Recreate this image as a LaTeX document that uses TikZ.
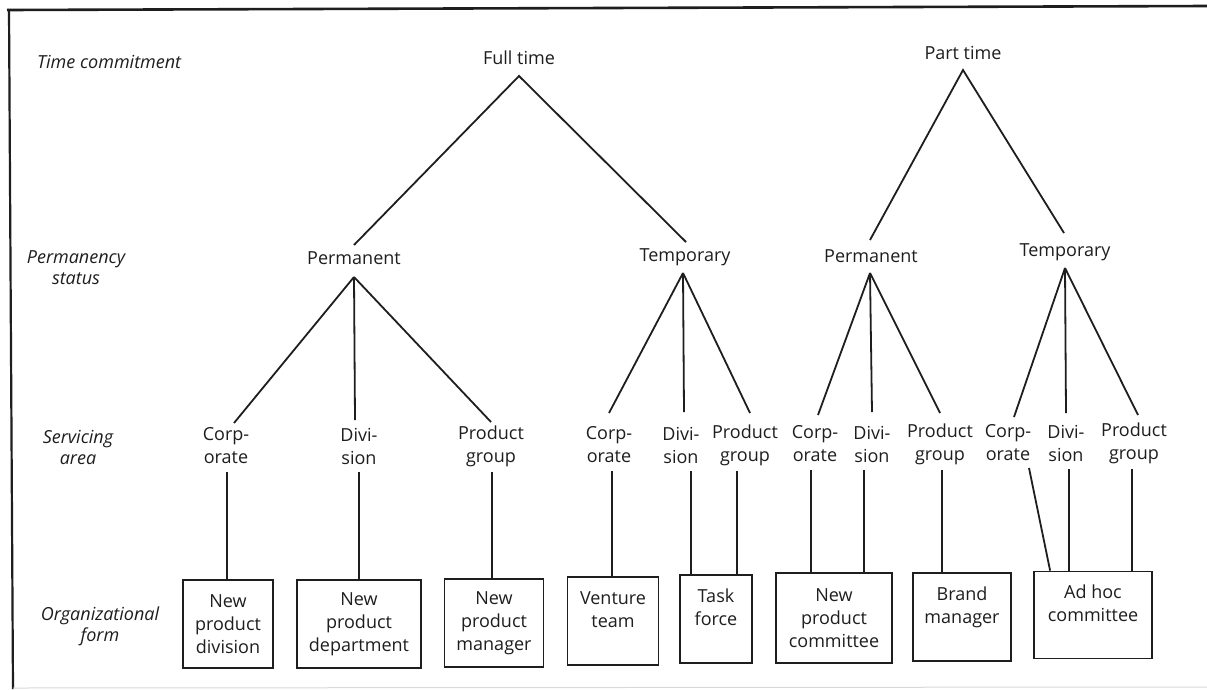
\documentclass[tikz,border=0pt]{standalone}
\usepackage{fontspec}
\setmainfont{Open Sans}
\definecolor{ink}{HTML}{1E1E1E}
% vertical drop from a servicing-area label to its organizational form box
\newcommand\dropline[3]{%
  \path ([shift={(#3,-26pt)}]#1.center) coordinate (dtop);
  \draw[link] (dtop) -- (dtop |- #2.north);}
\begin{document}
\begin{tikzpicture}[x=1pt,y=-1pt,
  txt/.style={inner sep=0pt, align=center, text=ink, font=\fontsize{18}{23}\selectfont},
  axis/.style={inner sep=0pt, align=center, text=ink, font=\fontsize{18}{21}\selectfont\itshape},
  formbox/.style={txt, draw=ink, line width=1.8pt},
  link/.style={draw=ink, line width=1.8pt}]
\useasboundingbox (0,0) rectangle (1207,689);
\fill[white] (0,0) rectangle (1207,689);

% frame
\draw[ink, line width=2.6pt] (7,10) -- (1207,6);
\draw[ink, line width=2.2pt] (9,9) -- (13,689);
\draw[black!15, line width=1pt] (13,688) -- (1207,687);

% row captions
\node[axis, anchor=west] (tc) at (37,62) {Time commitment};
\node[axis] (ps) at (76,268) {Permanency\\status};
\node[axis] (sa) at (78,447) {Servicing\\area};
\node[axis] (of) at (100,626) {Organizational\\form};

% time commitment
\node[txt] (ft) at (519,58) {Full time};
\node[txt] (pt) at (963,53) {Part time};

% permanency status
\node[txt] (fp)   at (354,258) {Permanent};
\node[txt] (ftmp) at (685,257) {Temporary};
\node[txt] (pp)   at (871,256) {Permanent};
\node[txt] (ptmp) at (1065,252) {Temporary};

% servicing area
\node[txt] (fpc) at (226,446) {Corp-\\orate};
\node[txt] (fpd) at (359,446) {Divi-\\sion};
\node[txt] (fpg) at (491,446) {Product\\group};
\node[txt] (ftc) at (609,445) {Corp-\\orate};
\node[txt] (ftd) at (681,445) {Divi-\\sion};
\node[txt] (ftg) at (745,445) {Product\\group};
\node[txt] (ppc) at (815,444) {Corp-\\orate};
\node[txt] (ppd) at (872,444) {Divi-\\sion};
\node[txt] (ppg) at (940,444) {Product\\group};
\node[txt] (ptc) at (1008,443) {Corp-\\orate};
\node[txt] (ptd) at (1066,443) {Divi-\\sion};
\node[txt] (ptg) at (1134,443) {Product\\group};

% organizational forms
\node[formbox, minimum width=90pt,  minimum height=88pt] (b1) at (228,624) {New\\product\\division};
\node[formbox, minimum width=124pt, minimum height=88pt] (b2) at (359,624) {New\\product\\department};
\node[formbox, minimum width=99pt,  minimum height=88pt] (b3) at (494,623) {New\\product\\manager};
\node[formbox, minimum width=91pt,  minimum height=88pt] (b4) at (613,621) {Venture\\team\\\mbox{}};
\node[formbox, minimum width=72pt,  minimum height=88pt] (b5) at (716,619) {Task\\force\\\mbox{}};
\node[formbox, minimum width=116pt, minimum height=90pt] (b6) at (834,618) {New\\product\\committee};
\node[formbox, minimum width=98pt,  minimum height=88pt] (b7) at (962,617) {Brand\\manager\\\mbox{}};
\node[formbox, minimum width=118pt, minimum height=87pt] (b8) at (1093,615) {Ad hoc\\committee\\\mbox{}};

% time commitment -> permanency
\draw[link] ([yshift=13pt]fp.center) -- ([yshift=-18pt]ft.center) -- ([shift={(1pt,15pt)}]ftmp.center);
\draw[link] ([shift={(-1pt,16pt)}]pp.center) -- ([yshift=-17pt]pt.center) -- ([shift={(-1pt,19pt)}]ptmp.center);

% permanency -> servicing area
\draw[link] ([yshift=-19pt]fp.center) -- ([shift={(8pt,23pt)}]fpc.center);
\draw[link] ([yshift=-19pt]fp.center) -- ([shift={(-4pt,26pt)}]fpd.center);
\draw[link] ([yshift=-19pt]fp.center) -- ([yshift=24pt]fpg.center);

\draw[link] ([shift={(-2pt,-16pt)}]ftmp.center) -- ([yshift=32pt]ftc.center);
\draw[link] ([shift={(-2pt,-16pt)}]ftmp.center) -- ([shift={(3pt,33pt)}]ftd.center);
\draw[link] ([shift={(-2pt,-16pt)}]ftmp.center) -- ([shift={(5pt,32pt)}]ftg.center);

\draw[link] ([shift={(-1pt,-17pt)}]pp.center) -- ([shift={(3pt,29pt)}]ppc.center);
\draw[link] ([shift={(-1pt,-17pt)}]pp.center) -- ([yshift=32pt]ppd.center);
\draw[link] ([shift={(-1pt,-17pt)}]pp.center) -- ([yshift=31pt]ppg.center);

\draw[link] ([yshift=-16pt]ptmp.center) -- ([shift={(6pt,26pt)}]ptc.center);
\draw[link] ([yshift=-16pt]ptmp.center) -- ([yshift=30pt]ptd.center);
\draw[link] ([yshift=-16pt]ptmp.center) -- ([shift={(4pt,28pt)}]ptg.center);

% servicing area -> organizational form
\dropline{fpc}{b1}{1pt}
\dropline{fpd}{b2}{0pt}
\dropline{fpg}{b3}{1pt}
\dropline{ftc}{b4}{3pt}
\dropline{ftd}{b5}{10pt}
\dropline{ftg}{b5}{-8pt}
\dropline{ppc}{b6}{-4pt}
\dropline{ppd}{b6}{-8pt}
\dropline{ppg}{b7}{2pt}
\dropline{ptd}{b8}{3pt}
\dropline{ptg}{b8}{-2pt}
\draw[link] ([shift={(21pt,-25pt)}]ptc.center) -- ([xshift=17pt]b8.north west);
\end{tikzpicture}
\end{document}
